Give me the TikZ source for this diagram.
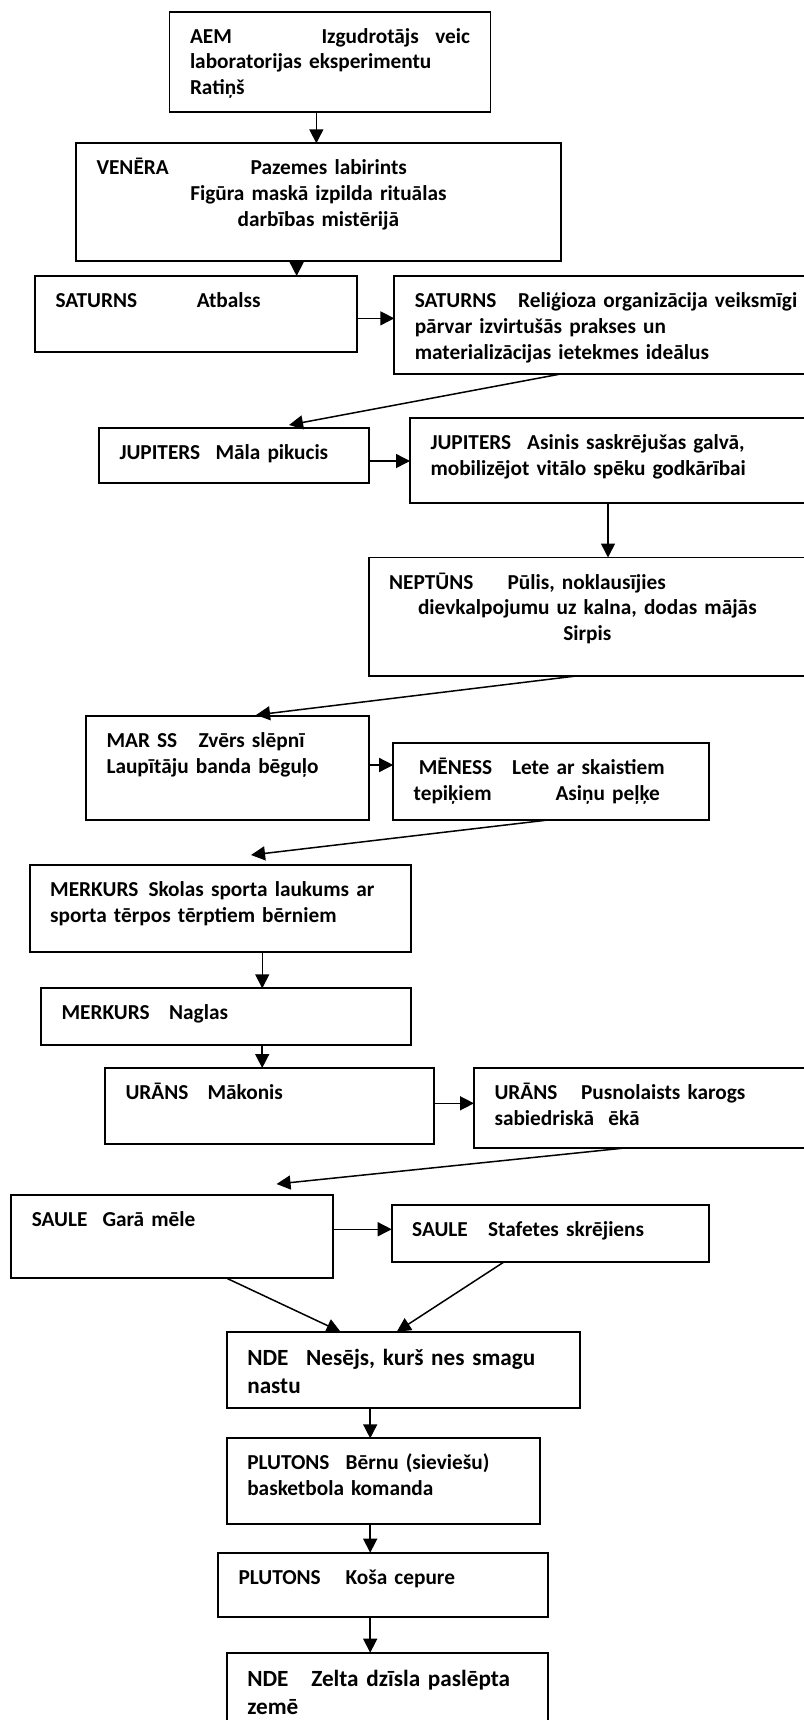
\documentclass[tikz,border=0pt]{standalone}
\usepackage{fontspec}
\setmainfont{Carlito}
\usetikzlibrary{arrows.meta}
\tikzset{
  chart box/.style 2 args={draw=black,line width=1.8pt,outer sep=0pt,anchor=north west,
    inner xsep=20.5pt,inner ysep=0pt,align=left,text width=#1,text height=31.5pt,text depth=#2,
    font=\fontsize{21.3pt}{25.8pt}\selectfont\bfseries},
  chart nde/.style={text height=33.5pt,font=\fontsize{23.2pt}{28.3pt}\selectfont\bfseries},
  chart link/.style={->,>={Triangle[length=14pt,width=14pt]},line width=1.5pt,draw=black}
}

\begin{document}
\begin{tikzpicture}[x=1pt,y=-1pt]
  \useasboundingbox (0,0) rectangle (803,1720);
  \fill[white] (0,0) rectangle (803,1720);
  \node[chart box={280pt}{68.8pt}] (aem) at (169.5,11.7)
    {\makebox[131.5pt][l]{AEM}Izgudrotājs\hfill veic\\laboratorijas eksperimentu\\Ratiņš};
  \node[chart box={443.7pt}{86.2pt}] (venera) at (76,143.3)
    {\makebox[154.2pt][l]{VENĒRA}Pazemes labirints\par\centering Figūra maskā izpilda rituālas\par darbības mistērijā\par};
  \node[chart box={280.7pt}{44.8pt}] (satl) at (35,276)
    {\makebox[141.3pt][l]{SATURNS}Atbalss};
  \node[chart box={384.7pt}{66.5pt}] (satr) at (394.3,276)
    {\makebox[103.3pt][l]{SATURNS}Reliģioza organizācija veiksmīgi\\pārvar izvirtušās prakses un\\materializācijas ietekmes ideālus};
  \node[chart box={228.7pt}{23.5pt}] (jupl) at (99,428.3)
    {\makebox[96pt][l]{JUPITERS}Māla pikucis};
  \node[chart box={355pt}{54.1pt}] (jupr) at (410,417.7)
    {\makebox[96.7pt][l]{JUPITERS}Asinis saskrējušas galvā,\\mobilizējot vitālo spēku godkārībai};
  \node[chart box={396.3pt}{86.7pt}] (nept) at (368.7,557.5)
    {\makebox[118.3pt][l]{NEPTŪNS}Pūlis, noklausījies\par\centering dievkalpojumu uz kalna, dodas mājās\par Sirpis\par};
  \node[chart box={241.7pt}{72.5pt}] (marss) at (86,716)
    {\makebox[92.2pt][l]{MAR SS}Zvērs slēpnī\\Laupītāju banda bēguļo};
  \node[chart box={274.8pt}{45.2pt}] (meness) at (393.2,743.3)
    {\hspace*{5.1pt}\makebox[93.2pt][l]{MĒNESS}Lete ar skaistiem\\\makebox[141.8pt][l]{tepiķiem}Asiņu peļķe};
  \node[chart box={340.3pt}{56.1pt}] (merk1) at (29.7,864.7)
    {\makebox[98.3pt][l]{MERKURS}Skolas sporta laukums ar\\sporta tērpos tērptiem bērniem};
  \node[chart box={329pt}{25.2pt}] (merk2) at (41,988.3)
    {\makebox[107.6pt][l]{MERKURS}Naglas};
  \node[chart box={288.2pt}{44.5pt}] (uran1) at (105,1068)
    {\makebox[82pt][l]{URĀNS}Mākonis};
  \node[chart box={291pt}{48.8pt}] (uran2) at (474,1068)
    {\makebox[86.6pt][l]{URĀNS}Pusnolaists karogs\\sabiedriskā~~ēkā};
  \node[chart box={280.5pt}{51.8pt}] (saule1) at (11.3,1195)
    {\makebox[70.7pt][l]{SAULE}Garā mēle};
  \node[chart box={276.3pt}{25.2pt}] (saule2) at (391.7,1205)
    {\makebox[75.8pt][l]{SAULE}Stafetes skrējiens};
  \node[chart box={311.8pt}{43.1pt},chart nde] (nde1) at (226.8,1331.7)
    {\makebox[58.9pt][l]{NDE}Nesējs, kurš nes smagu\\nastu};
  \node[chart box={272.4pt}{54.2pt}] (plut1) at (226.8,1438.3)
    {\makebox[98.3pt][l]{PLUTONS}Bērnu (sieviešu)\\basketbola komanda};
  \node[chart box={288.8pt}{32.5pt}] (plut2) at (218.1,1552.7)
    {\makebox[107pt][l]{PLUTONS}Koša cepure};
  \node[chart box={280.1pt}{43.8pt},chart nde] (nde2) at (226.8,1652.7)
    {\makebox[64pt][l]{NDE}Zelta dzīsla paslēpta\\zemē};

  \draw[chart link] ([xshift=-2pt]venera.north |- aem.south) -- ([xshift=-2pt]venera.north);
  \foreach \a/\b/\s in {venera/satl/-21.7,jupr/nept/0,merk1/merk2/41.9,merk2/uran1/36.2,nde1/plut1/-33,plut1/plut2/-13.3,plut2/nde2/-12.8}
    \draw[chart link] ([xshift=\s pt]\a.south) -- ([xshift=\s pt]\a.south |- \b.north);
  \foreach \a/\b/\s in {satl/satr/-4.2,jupl/jupr/-5.2,marss/meness/3,uran1/uran2/2.7,saule1/saule2/7.4}
    \draw[chart link] ([yshift=\s pt]\a.east) -- ([yshift=\s pt]\a.east -| \b.west);
  \draw[chart link] ([xshift=166.4pt]satr.south west) -- ([xshift=55.2pt,yshift=3.3pt]jupl.north);
  \draw[chart link] ([xshift=-8.8pt]nept.south) -- ([xshift=28.7pt,yshift=1pt]marss.north);
  \draw[chart link] ([xshift=-3.1pt]meness.south) -- ([xshift=30.7pt,yshift=9.7pt]merk1.north);
  \draw[chart link] ([xshift=-18pt]uran2.south) -- ([xshift=104.5pt,yshift=11pt]saule1.north);
  \draw[chart link] ([xshift=54.8pt]saule1.south) -- ([xshift=-62.7pt]nde1.north);
  \draw[chart link] ([xshift=-46pt]saule2.south) -- ([xshift=-6.4pt]nde1.north);
\end{tikzpicture}
\end{document}
